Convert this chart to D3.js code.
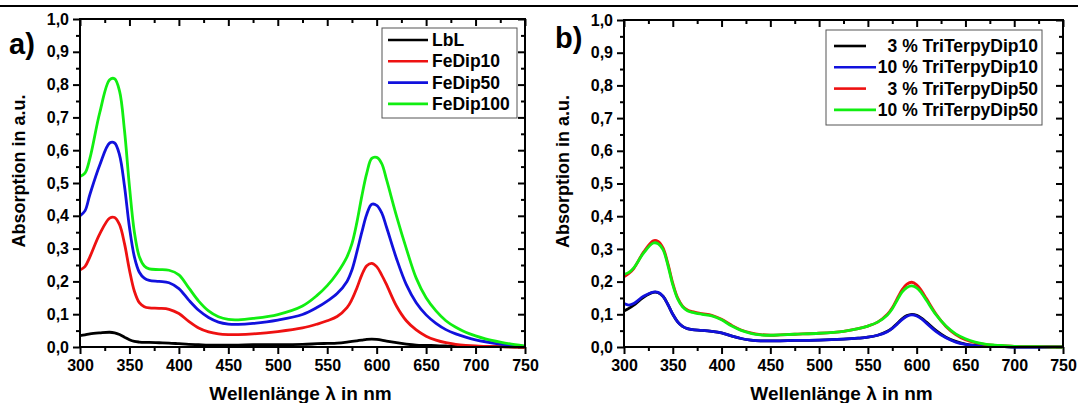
<!DOCTYPE html>
<html lang="de">
<head>
<meta charset="utf-8">
<title>Absorption</title>
<script src="https://d3js.org/d3.v7.min.js"></script>
<style>
  body { margin: 0; background: #fff; }
  svg { display: block; font-family: "Liberation Sans", Arial, sans-serif; font-weight: bold; }
</style>
</head>
<body>
<div id="chart"></div>
<script>
// Data
const wavelengths = [300,305,310,320,330,335,340,345,350,355,360,365,370,380,390,400,410,420,430,440,450,460,475,500,525,540,550,560,570,575,580,585,590,595,600,605,610,620,630,640,650,660,670,680,690,700,710,725,740,750];

// panel a
const lbl = [.035,.037,.040,.043,.045,.043,.038,.030,.022,.017,.015,.014,.014,.013,.012,.010,.008,.007,.006,.006,.006,.006,.007,.007,.008,.010,.011,.012,.015,.017,.019,.021,.023,.024,.023,.021,.018,.013,.009,.006,.005,.004,.003,.003,.002,.002,.001,.001,0,0];
const feDip10 = [.235,.245,.275,.345,.393,.395,.373,.315,.235,.170,.135,.123,.119,.118,.115,.102,.078,.058,.046,.040,.038,.038,.040,.047,.058,.070,.080,.093,.120,.145,.180,.220,.248,.255,.245,.220,.190,.125,.080,.052,.033,.021,.013,.008,.005,.003,.002,.001,0,0];
const feDip50 = [.400,.415,.465,.555,.622,.622,.585,.490,.365,.275,.228,.210,.203,.200,.196,.178,.143,.112,.090,.076,.070,.069,.072,.082,.099,.121,.140,.163,.200,.235,.290,.350,.405,.435,.432,.410,.365,.270,.190,.135,.098,.072,.053,.040,.030,.022,.016,.009,.004,.002];
const feDip100 = [.520,.530,.575,.715,.815,.818,.780,.660,.490,.350,.275,.247,.238,.236,.234,.220,.180,.140,.110,.092,.084,.083,.087,.099,.125,.158,.187,.225,.275,.315,.380,.460,.530,.575,.578,.560,.510,.400,.300,.210,.150,.110,.080,.060,.045,.034,.025,.015,.007,.003];

// panel b
const tri3Dip10 = [.110,.118,.128,.152,.167,.166,.155,.130,.100,.077,.063,.056,.053,.051,.048,.043,.034,.026,.021,.019,.019,.019,.020,.021,.024,.027,.030,.036,.048,.058,.072,.086,.096,.100,.097,.088,.076,.050,.030,.017,.009,.005,.003,.002,.001,0,0,0,0,0];
const tri10Dip10 = [.133,.128,.133,.155,.168,.167,.155,.130,.100,.077,.063,.056,.053,.051,.048,.043,.034,.026,.021,.019,.019,.019,.020,.021,.024,.027,.030,.036,.047,.057,.070,.084,.094,.098,.095,.086,.073,.047,.028,.015,.008,.004,.002,.001,.001,0,0,0,0,0];
const tri3Dip50 = [.215,.225,.240,.290,.325,.323,.303,.255,.195,.150,.125,.113,.108,.102,.097,.085,.067,.052,.043,.038,.036,.037,.039,.042,.048,.056,.064,.076,.100,.120,.148,.175,.192,.198,.190,.172,.148,.100,.063,.038,.022,.013,.008,.005,.003,.002,.001,.001,0,0];
const tri10Dip50 = [.222,.228,.242,.287,.318,.316,.298,.250,.190,.147,.123,.111,.106,.100,.095,.083,.065,.051,.042,.037,.036,.037,.039,.042,.048,.056,.064,.076,.098,.117,.143,.168,.182,.187,.181,.165,.143,.098,.064,.040,.025,.015,.009,.006,.004,.002,.001,.001,0,0];

const xTicks = [300,350,400,450,500,550,600,650,700,750];
const yTicks = [0,0.1,0.2,0.3,0.4,0.5,0.6,0.7,0.8,0.9,1.0];

const labelsA = ["LbL", "FeDip10", "FeDip50", "FeDip100"];
const labelsB = ["3 % TriTerpyDip10", "10 % TriTerpyDip10", "3 % TriTerpyDip50", "10 % TriTerpyDip50"];
const colorsA = ["#000000", "#ee1111", "#1111dd", "#11ee11"];
const colorsB = ["#000000", "#1111dd", "#ee1111", "#11ee11"];

const W = 1078, H = 403;
const svg = d3.select("#chart").append("svg").attr("width", W).attr("height", H);

// rule at the top
svg.append("rect").attr("x", 0).attr("y", 5).attr("width", W).attr("height", 2).attr("fill", "#000");

const fmt = d => d3.format(".1f")(d).replace(".", ",");

function drawPanel(opt) {
  const x = d3.scaleLinear().domain([300, 750]).range([opt.left, opt.right]);
  const y = d3.scaleLinear().domain([0, 1]).range([opt.bottom, opt.top]);
  const g = svg.append("g");

  // minor ticks
  const xMinor = d3.range(325, 750, 50);
  const yMinor = d3.range(0.05, 1, 0.1);

  // bottom axis (outside ticks)
  g.append("g").attr("transform", `translate(0,${opt.bottom})`)
    .call(d3.axisBottom(x).tickValues(xTicks).tickSize(7).tickPadding(6).tickFormat(d3.format("d")))
    .call(a => a.select(".domain").remove());
  g.append("g").attr("transform", `translate(0,${opt.bottom})`)
    .call(d3.axisBottom(x).tickValues(xMinor).tickSize(4).tickFormat(""))
    .call(a => a.select(".domain").remove());
  // left axis (outside ticks)
  g.append("g").attr("transform", `translate(${opt.left},0)`)
    .call(d3.axisLeft(y).tickValues(yTicks).tickSize(7).tickPadding(4).tickFormat(fmt))
    .call(a => a.select(".domain").remove());
  g.append("g").attr("transform", `translate(${opt.left},0)`)
    .call(d3.axisLeft(y).tickValues(yMinor).tickSize(4).tickFormat(""))
    .call(a => a.select(".domain").remove());
  // top axis (inside ticks)
  g.append("g").attr("transform", `translate(0,${opt.top})`)
    .call(d3.axisBottom(x).tickValues(xTicks).tickSize(7).tickFormat(""))
    .call(a => a.select(".domain").remove());
  g.append("g").attr("transform", `translate(0,${opt.top})`)
    .call(d3.axisBottom(x).tickValues(xMinor).tickSize(4).tickFormat(""))
    .call(a => a.select(".domain").remove());
  // right axis (inside ticks)
  g.append("g").attr("transform", `translate(${opt.right},0)`)
    .call(d3.axisLeft(y).tickValues(yTicks).tickSize(7).tickFormat(""))
    .call(a => a.select(".domain").remove());
  g.append("g").attr("transform", `translate(${opt.right},0)`)
    .call(d3.axisLeft(y).tickValues(yMinor).tickSize(4).tickFormat(""))
    .call(a => a.select(".domain").remove());

  g.selectAll(".tick line").attr("stroke", "#000").attr("stroke-width", 2);
  g.selectAll(".tick text").attr("fill", "#000").style("font-size", "16px").style("font-weight", "bold");

  // curves
  const line = d3.line().curve(d3.curveCatmullRom.alpha(0.5))
    .x((d, i) => x(wavelengths[i])).y(d => y(d));
  opt.series.forEach((s, i) => {
    g.append("path").datum(s).attr("fill", "none")
      .attr("stroke", opt.colors[i]).attr("stroke-width", 2.8)
      .attr("stroke-linejoin", "round").attr("d", line);
  });

  // frame
  g.append("rect").attr("x", opt.left).attr("y", opt.top)
    .attr("width", opt.right - opt.left).attr("height", opt.bottom - opt.top)
    .attr("fill", "none").attr("stroke", "#000").attr("stroke-width", 2);

  // legend
  const lg = opt.legend;
  g.append("rect").attr("x", lg.x0).attr("y", lg.y0).attr("width", lg.x1 - lg.x0).attr("height", lg.y1 - lg.y0)
    .attr("fill", "#fff").attr("stroke", "#555").attr("stroke-width", 1);
  opt.labels.forEach((t, i) => {
    const ly = lg.y0 + lg.first + i * lg.step;
    g.append("line").attr("x1", lg.lx0).attr("x2", lg.lx1(i)).attr("y1", ly).attr("y2", ly)
      .attr("stroke", opt.colors[i]).attr("stroke-width", 2.6);
    g.append("text").attr("x", lg.tx).attr("y", ly + 6).attr("text-anchor", lg.anchor)
      .style("font-size", "17.5px").text(t);
  });

  // axis titles
  g.append("text").attr("x", (opt.left + opt.right) / 2 - 2).attr("y", 400)
    .attr("text-anchor", "middle").style("font-size", "19px").text("Wellenlänge λ in nm");
  g.append("text").attr("transform", `translate(${opt.left - 55},${(opt.top + opt.bottom) / 2 - 12}) rotate(-90)`)
    .attr("text-anchor", "middle").style("font-size", "18px").text("Absorption in a.u.");

  g.append("text").attr("x", opt.tagX).attr("y", opt.tagY).style("font-size", "29px").text(opt.tag);
}

drawPanel({
  left: 80, right: 525, top: 19, bottom: 347,
  series: [lbl, feDip10, feDip50, feDip100], colors: colorsA, labels: labelsA,
  legend: { x0: 382, x1: 517, y0: 28, y1: 118, first: 12, step: 21.3, lx0: 388, lx1: () => 428, tx: 432, anchor: "start" },
  tag: "a)", tagX: 9, tagY: 54
});

drawPanel({
  left: 624, right: 1063, top: 20, bottom: 347,
  series: [tri3Dip10, tri10Dip10, tri3Dip50, tri10Dip50], colors: colorsB, labels: labelsB,
  legend: { x0: 826, x1: 1042, y0: 30, y1: 125, first: 16, step: 21.3, lx0: 834, lx1: i => (i % 2 ? 876 : 866), tx: 1038, anchor: "end" },
  tag: "b)", tagX: 555, tagY: 48
});
</script>
</body>
</html>
